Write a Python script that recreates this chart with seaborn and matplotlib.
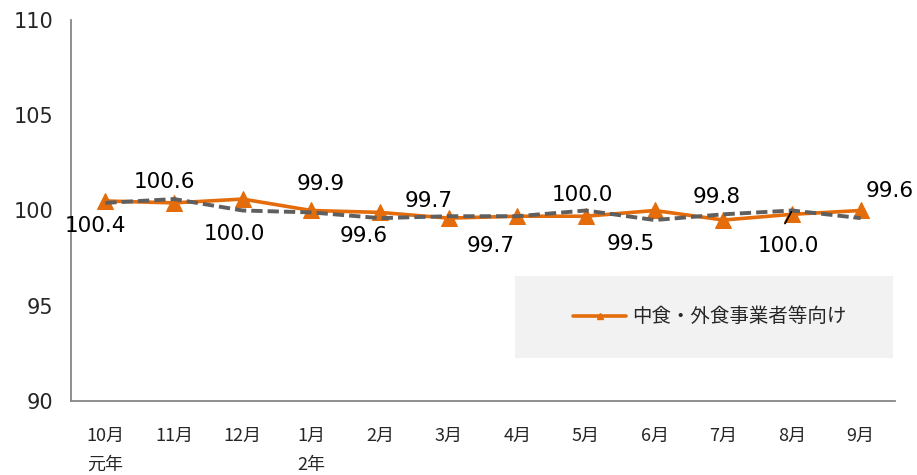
import matplotlib
matplotlib.use('Agg')
import matplotlib.pyplot as plt
import pandas as pd
import seaborn as sns
from matplotlib.lines import Line2D
from matplotlib.patches import Rectangle

# data
months = ['10月', '11月', '12月', '1月', '2月', '3月', '4月', '5月', '6月', '7月', '8月', '9月']
year_marks = ['元年', '', '', '2年', '', '', '', '', '', '', '', '']
food_service = [100.5, 100.4, 100.6, 100.0, 99.9, 99.6, 99.7, 99.7, 100.0, 99.5, 99.8, 100.0]
reference = [100.4, 100.6, 100.0, 99.9, 99.6, 99.7, 99.7, 100.0, 99.5, 99.8, 100.0, 99.6]
legend_label = '中食・外食事業者等向け'
y_ticks = [90, 95, 100, 105, 110]

ORANGE = '#E46C0A'
GREY = '#5F5F5F'
CJK = ['Noto Sans CJK JP', 'DejaVu Sans']

# label offsets (pixels) for the value labels of the dashed series
label_offsets = [(-10, -23), (-10, 17), (-8, -24), (9, 28), (-16, -18), (-20, 15),
                 (-27, -30), (-4, 15), (-24, -24), (-7, 17), (-4, -36), (29, 27)]

sns.set_style('white')
plt.rcParams['font.family'] = ['DejaVu Sans']

df = pd.DataFrame({'month': months, 'food': food_service, 'ref': reference})

fig = plt.figure(figsize=(9.17, 4.75), dpi=100)
ax = fig.add_axes([71 / 917, 74 / 475, 824 / 917, 381 / 475])

sns.lineplot(data=df, x='month', y='food', sort=False, color=ORANGE, lw=2.6,
             marker='^', markersize=11, markeredgecolor=ORANGE, legend=False, ax=ax)
sns.lineplot(data=df, x='month', y='ref', sort=False, color=GREY, lw=2.8,
             legend=False, ax=ax)
ax.lines[-1].set_dashes([2.9, 1.3])

for i, (v, off) in enumerate(zip(reference, label_offsets)):
    ax.annotate(f'{v:.1f}', xy=(i, v), xytext=off, textcoords='offset pixels',
                ha='center', va='center', fontsize=15.5, color='black')

# small leader line at 8月
ax.annotate('', xy=(10, reference[10]), xytext=(-7, -13), textcoords='offset pixels',
            arrowprops=dict(arrowstyle='-', color='black', lw=1.3, shrinkA=0, shrinkB=1))

ax.set_ylim(90, 110)
ax.set_xlim(-0.5, len(months) - 0.5)
ax.set_yticks(y_ticks)
ax.set_yticklabels([str(t) for t in y_ticks], fontsize=15)
ax.set_xticks(range(len(months)))
ax.set_xticklabels([m + ('\n' + y if y else '') for m, y in zip(months, year_marks)],
                   fontsize=13, family=CJK, linespacing=1.75)
ax.tick_params(axis='both', length=0)
ax.tick_params(axis='y', pad=13)
ax.tick_params(axis='x', pad=19)
ax.set_xlabel('')
ax.set_ylabel('')

for s in ['top', 'right']:
    ax.spines[s].set_visible(False)
for s in ['left', 'bottom']:
    ax.spines[s].set_color('#868686')
    ax.spines[s].set_linewidth(1.3)

# legend box
box_x0, box_y0 = (515 - 71) / 824, (401 - 358) / 381
box_w, box_h = (893 - 515) / 824, (358 - 276) / 381
ax.add_patch(Rectangle((box_x0, box_y0), box_w, box_h, transform=ax.transAxes,
                       facecolor='#F2F2F2', edgecolor='none', zorder=0.5, clip_on=False))
handle = Line2D([], [], color=ORANGE, lw=2.6, marker='^', markersize=5)
ax.legend(handles=[handle], labels=[legend_label], loc='center',
          bbox_to_anchor=(box_x0 + box_w / 2 + 0.007, box_y0 + box_h / 2),
          frameon=False, handlelength=2.7, handletextpad=0.3,
          prop={'family': CJK, 'size': 14})

fig.savefig('out.png', dpi=100)
